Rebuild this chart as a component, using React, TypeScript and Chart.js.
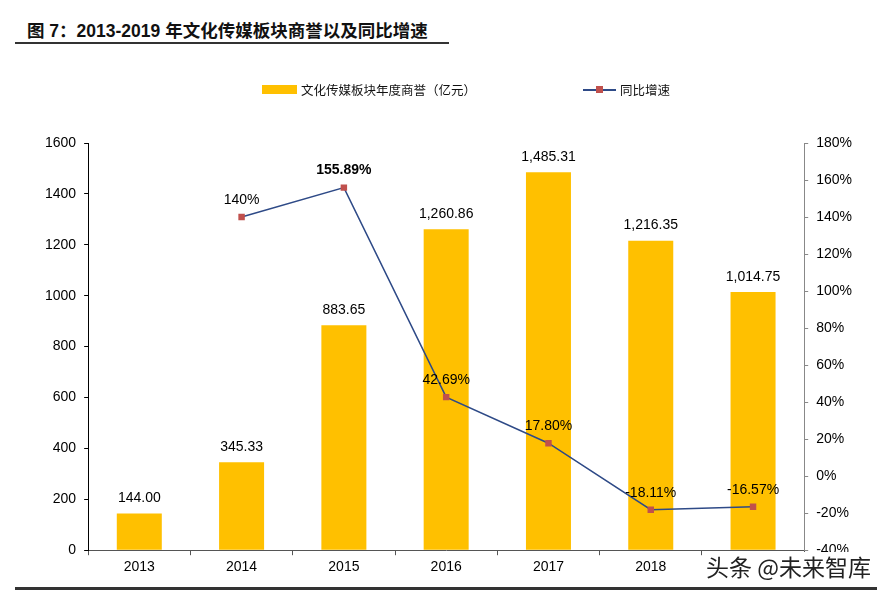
import React, { useEffect, useRef } from "react";
import { Chart, registerables } from "chart.js";

Chart.register(...registerables);

const categories = ["2013", "2014", "2015", "2016", "2017", "2018", "2019"];
const goodwill = [144.0, 345.33, 883.65, 1260.86, 1485.31, 1216.35, 1014.75];
const growth = [null, 140, 155.89, 42.69, 17.8, -18.11, -16.57];
const goodwillLabels = ["144.00", "345.33", "883.65", "1,260.86", "1,485.31", "1,216.35", "1,014.75"];
const growthLabels = ["", "140%", "155.89%", "42.69%", "17.80%", "-18.11%", "-16.57%"];
const boldGrowthIndex = 2;

const barName = "文化传媒板块年度商誉（亿元）";
const lineName = "同比增速";
const titleText = "图 7：2013-2019 年文化传媒板块商誉以及同比增速";
const watermark = "头条 @未来智库";

const FONT = "'Liberation Sans', Arial, 'Noto Sans CJK SC', sans-serif";

const labelPlugin = {
  id: "valueLabels",
  afterDatasetsDraw(chart: any) {
    const ctx = chart.ctx;
    ctx.save();
    ctx.textAlign = "center";
    ctx.textBaseline = "middle";
    ctx.fillStyle = "#000";
    const barMeta = chart.getDatasetMeta(1);
    barMeta.data.forEach((el: any, i: number) => {
      ctx.font = `14px ${FONT}`;
      ctx.fillText(goodwillLabels[i], el.x, el.y - 15);
    });
    const lineMeta = chart.getDatasetMeta(0);
    lineMeta.data.forEach((el: any, i: number) => {
      if (growth[i] === null) return;
      ctx.font = `${i === boldGrowthIndex ? "bold " : ""}14px ${FONT}`;
      ctx.fillText(growthLabels[i], el.x, el.y - 17);
    });
    ctx.restore();
  },
};

export default function App() {
  const ref = useRef<HTMLCanvasElement>(null);
  useEffect(() => {
    const chart = new Chart(ref.current!, {
      type: "bar",
      data: {
        labels: categories,
        datasets: [
          {
            type: "line",
            label: lineName,
            data: growth as any,
            yAxisID: "y1",
            borderColor: "#2E4A87",
            borderWidth: 1.5,
            pointStyle: "rect",
            pointRadius: 3.5,
            pointBackgroundColor: "#C0504D",
            pointBorderColor: "#C0504D",
            order: 0,
            spanGaps: false,
          } as any,
          {
            type: "bar",
            label: barName,
            data: goodwill,
            yAxisID: "y",
            backgroundColor: "#FFC000",
            barPercentage: 0.44,
            categoryPercentage: 1,
            order: 1,
          },
        ],
      },
      options: {
        animation: false,
        responsive: false,
        maintainAspectRatio: false,
        layout: { padding: { top: 143, left: 37, right: 27, bottom: 12 } },
        plugins: { legend: { display: false }, title: { display: false }, tooltip: { enabled: false } },
        scales: {
          x: {
            grid: { display: true, drawOnChartArea: false, drawTicks: true, tickLength: 5, offset: true, color: "#555" },
            border: { color: "#555", width: 1 },
            ticks: { color: "#000", font: { family: FONT, size: 14 }, padding: 4 },
          },
          y: {
            position: "left",
            min: 0,
            max: 1600,
            grid: { display: true, drawOnChartArea: false, drawTicks: true, tickLength: 4, color: "#000" },
            border: { color: "#000", width: 1 },
            ticks: { stepSize: 200, color: "#000", font: { family: FONT, size: 14 }, padding: 8, callback: (v: any) => `${v}` },
          },
          y1: {
            position: "right",
            min: -40,
            max: 180,
            grid: { display: true, drawOnChartArea: false, drawTicks: true, tickLength: 4, color: "#888" },
            border: { color: "#888", width: 1 },
            ticks: {
              stepSize: 20,
              color: "#000",
              font: { family: FONT, size: 14 },
              padding: 8,
              callback: (v: any) => `${v}%`,
            },
          },
        },
      },
      plugins: [labelPlugin],
    });
    return () => chart.destroy();
  }, []);

  return (
    <div style={{ position: "absolute", left: 0, top: 0, width: 887, height: 592, background: "#fff", overflow: "hidden" }}>
      <div
        style={{
          position: "absolute",
          left: 27,
          top: 19,
          fontFamily: FONT,
          fontWeight: "bold",
          fontSize: 17.5,
          color: "#111",
          whiteSpace: "nowrap",
          lineHeight: "24px",
        }}
      >
        {titleText}
      </div>
      <div style={{ position: "absolute", left: 15, top: 42, width: 434, height: 2, background: "#333" }} />
      <canvas ref={ref} width={887} height={592} style={{ position: "absolute", left: 0, top: 0 }} />
      <div style={{ position: "absolute", left: 262, top: 80, display: "flex", alignItems: "center", fontFamily: FONT, fontSize: 12.5, color: "#111", whiteSpace: "nowrap" }}>
        <div style={{ width: 35, height: 9, background: "#FFC000", marginRight: 4 }} />
        <span>{barName}</span>
      </div>
      <div style={{ position: "absolute", left: 583, top: 80, display: "flex", alignItems: "center", fontFamily: FONT, fontSize: 12.5, color: "#111", whiteSpace: "nowrap" }}>
        <div style={{ position: "relative", width: 33, height: 9, marginRight: 4 }}>
          <div style={{ position: "absolute", left: 0, top: 4, width: 33, height: 1.5, background: "#2E4A87" }} />
          <div style={{ position: "absolute", left: 13, top: 1, width: 7, height: 7, background: "#C0504D" }} />
        </div>
        <span>{lineName}</span>
      </div>
      <div
        style={{
          position: "absolute",
          left: 704,
          top: 552,
          background: "#fff",
          fontFamily: "'Noto Sans CJK SC', sans-serif",
          fontSize: 23,
          lineHeight: "28px",
          color: "#222",
          padding: "0 4px 0 2px",
          whiteSpace: "nowrap",
        }}
      >
        {watermark}
      </div>
      <div style={{ position: "absolute", left: 15, top: 587, width: 862, height: 3, background: "#333" }} />
    </div>
  );
}
